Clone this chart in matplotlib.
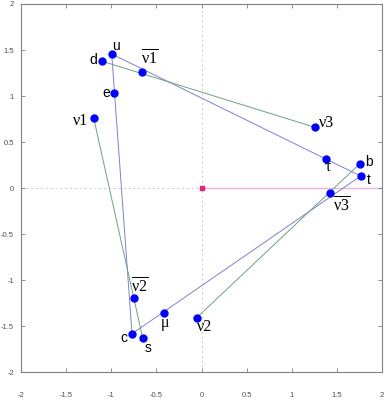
import matplotlib.pyplot as plt
import numpy as np

plt.rcParams['mathtext.fontset'] = 'custom'
plt.rcParams['mathtext.rm'] = 'Liberation Serif'
plt.rcParams['mathtext.it'] = 'Liberation Serif'

# particle positions
names = ['u', 'd', 'nb1', 'e', 'n1', 'n3', 'tau', 'b', 't', 'nb3', 'nb2', 'mu', 'c', 's', 'n2']
xs = [-0.995, -1.10, -0.662, -0.966, -1.194, 1.257, 1.382, 1.752, 1.763, 1.423, -0.751, -0.419, -0.770, -0.651, -0.053]
ys = [1.457, 1.378, 1.258, 1.037, 0.759, 0.661, 0.314, 0.263, 0.132, -0.055, -1.196, -1.352, -1.580, -1.630, -1.406]

labels = {'u': 'u', 'd': 'd', 'e': 'e', 'c': 'c', 's': 's', 'b': 'b', 't': 't',
          'n1': 'ν1', 'n2': 'ν2', 'n3': 'ν3', 'tau': 'τ', 'mu': 'μ',
          'nb1': r'$\overline{\nu1}$', 'nb2': r'$\overline{\nu2}$', 'nb3': r'$\overline{\nu3}$'}
# label offsets in pixels
offs = {'u': (4, 8), 'd': (-9, 1), 'nb1': (8, 13), 'e': (-8, 0), 'n1': (-13, -3),
        'n3': (12, 4), 'tau': (2, -8), 'b': (9, 2), 't': (8, -4), 'nb3': (12, -13),
        'nb2': (6, 11), 'mu': (1, -10), 'c': (-8, -4), 's': (5, -10), 'n2': (8, -9)}

blue_edges = [('u', 'c'), ('c', 't'), ('t', 'u')]
green_edges = [('d', 'n3'), ('n1', 's'), ('n2', 'b')]

pos = {n: (x, y) for n, x, y in zip(names, xs, ys)}

fig = plt.figure(figsize=(3.89, 4.0), dpi=100)
ax = fig.add_axes([0.054, 0.069, 0.928, 0.921])

ax.axhline(0, color='#c8c8c8', lw=0.7, ls=(0, (2, 3)), zorder=0)
ax.axvline(0, color='#c8c8c8', lw=0.7, ls=(0, (2, 3)), zorder=0)
ax.plot([0, 2], [0, 0], color='#f0b0e8', lw=1.0, zorder=1)
ax.plot([0], [0], 's', color='#e8207a', ms=3.5, zorder=3)

for a, b in blue_edges:
    ax.plot([pos[a][0], pos[b][0]], [pos[a][1], pos[b][1]], color='#8080cc', lw=0.7, zorder=2)
for a, b in green_edges:
    ax.plot([pos[a][0], pos[b][0]], [pos[a][1], pos[b][1]], color='#70a080', lw=0.7, zorder=2)

ax.plot(xs, ys, 'o', color='#0000ff', ms=5, zorder=4)

for n in names:
    lab = labels[n]
    if n in ('u', 'd', 'e', 'c', 's', 'b', 't'):
        fam = 'Liberation Sans'
        fs = 10
    else:
        fam = 'Liberation Serif'
        fs = 11.5
    ax.annotate(lab, pos[n], xytext=offs[n], textcoords='offset pixels',
                ha='center', va='center', fontsize=fs, family=fam, color='black', zorder=5)

ax.set_xlim(-2, 2)
ax.set_ylim(-2, 2)
ax.set_xticks(np.arange(-2, 2.01, 0.5))
ax.set_yticks(np.arange(-2, 2.01, 0.5))
ax.set_xticklabels(['-2', '-1.5', '-1', '-0.5', '0', '0.5', '1', '1.5', '2'])
ax.set_yticklabels(['-2', '-1.5', '-1', '-0.5', '0', '0.5', '1', '1.5', '2'])
ax.tick_params(direction='in', length=3, width=0.6, color='#808080', top=True, right=True,
               labelsize=5.5, labelcolor='#505050')
ax.tick_params(axis='x', pad=14)
ax.tick_params(axis='y', pad=5)
for lab in ax.get_xticklabels() + ax.get_yticklabels():
    lab.set_family('Liberation Sans')
for sp in ax.spines.values():
    sp.set_color('#808080')
    sp.set_linewidth(0.8)

plt.savefig('out.png', dpi=100)
